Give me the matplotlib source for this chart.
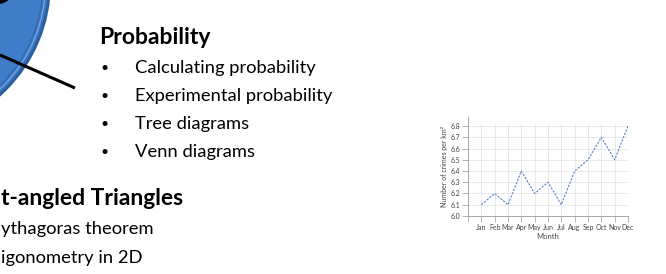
import numpy as np
import matplotlib
matplotlib.use("Agg")
import matplotlib.pyplot as plt
from matplotlib.patches import Circle

# Chart data
months = ["Jan", "Feb", "Mar", "Apr", "May", "Jun",
          "Jul", "Aug", "Sep", "Oct", "Nov", "Dec"]
crimes = [6.1, 6.2, 6.1, 6.4, 6.2, 6.3, 6.1, 6.4, 6.5, 6.7, 6.5, 6.8]
y_ticks = [6.0, 6.1, 6.2, 6.3, 6.4, 6.5, 6.6, 6.7, 6.8]

# Slide text (left side of the slide is cropped off in the reference)
prob_title = "Probability"
prob_items = ["Calculating probability", "Experimental probability",
              "Tree diagrams", "Venn diagrams"]
tri_title = "t-angled Triangles"
tri_items = ["ythagoras theorem", "igonometry in 2D"]

plt.rcParams['font.family'] = ['Lato', 'DejaVu Sans']

W, H = 666, 274
fig = plt.figure(figsize=(W / 100, H / 100), dpi=100)

# full-figure layer in pixel coords (y down)
bg = fig.add_axes([0, 0, 1, 1])
bg.set_xlim(0, W)
bg.set_ylim(H, 0)
bg.axis("off")

# big blue circle on the left
cx, cy, R = -101, -17, 152
bg.add_patch(Circle((cx, cy), R, facecolor="#2d5f9f", edgecolor="none"))
bg.add_patch(Circle((cx, cy), R - 3, facecolor="#3b77c0", edgecolor="none"))
bg.add_patch(Circle((cx, cy), R - 5.5, facecolor="none", edgecolor="#79a6dc", lw=0.9))
bg.add_patch(Circle((cx, cy), R - 8, facecolor="#3f7dc9", edgecolor="#2f67ab", lw=0.8))
bg.add_patch(Circle((-2, -12), 16, facecolor="black", edgecolor="none"))

# connector line
bg.plot([0, 75], [55, 88], color="black", lw=2.2, solid_capstyle="butt")

fs = 13.2
fs_b = 16.5
bg.text(99, 44, prob_title, fontsize=fs_b, fontweight="bold", va="baseline")
for i, item in enumerate(prob_items):
    yb = 73 + 28 * i
    bg.text(101, yb - 1, "\u2022", fontsize=10, va="baseline")
    bg.text(135, yb, item, fontsize=fs, va="baseline")

bg.text(1, 205, tri_title, fontsize=fs_b, fontweight="bold", va="baseline")
bg.text(1, 234, tri_items[0], fontsize=fs, va="baseline")
bg.text(1, 263, tri_items[1], fontsize=fs, va="baseline")

# line chart
ax = fig.add_axes([468 / W, 1 - 216 / H, 160 / W, 99 / H])
x = np.arange(len(months))
ax.vlines(x, 6.0, 6.83, color="#e6e6e6", lw=0.6, zorder=0)
ax.hlines(y_ticks[1:], -1, 11, color="#e6e6e6", lw=0.6, zorder=0)
ax.plot(x, crimes, color="#5a80cc", lw=0.8, ls=(0, (2, 1.2)))

ax.set_xlim(-1, 11)
ax.set_ylim(6.0, 6.88)
ax.set_xticks(list(range(-1, 12)))
ax.set_xticklabels([""] + months)
ax.set_yticks(y_ticks)
ax.set_yticklabels([f"{v:.1f}" for v in y_ticks])
ax.tick_params(length=4, width=0.5, color="#999999", labelsize=5,
               labelcolor="#444444", pad=1.5)
for s in ["top", "right"]:
    ax.spines[s].set_visible(False)
for s in ["left", "bottom"]:
    ax.spines[s].set_color("#999999")
    ax.spines[s].set_linewidth(0.6)
ax.patch.set_alpha(0)
ax.set_xlabel("Month", fontsize=5.5, color="#444444", labelpad=2)
ax.set_ylabel("Number of crimes per km\u00b2", fontsize=5, color="#444444", labelpad=2)

fig.savefig("out.png", dpi=100)
